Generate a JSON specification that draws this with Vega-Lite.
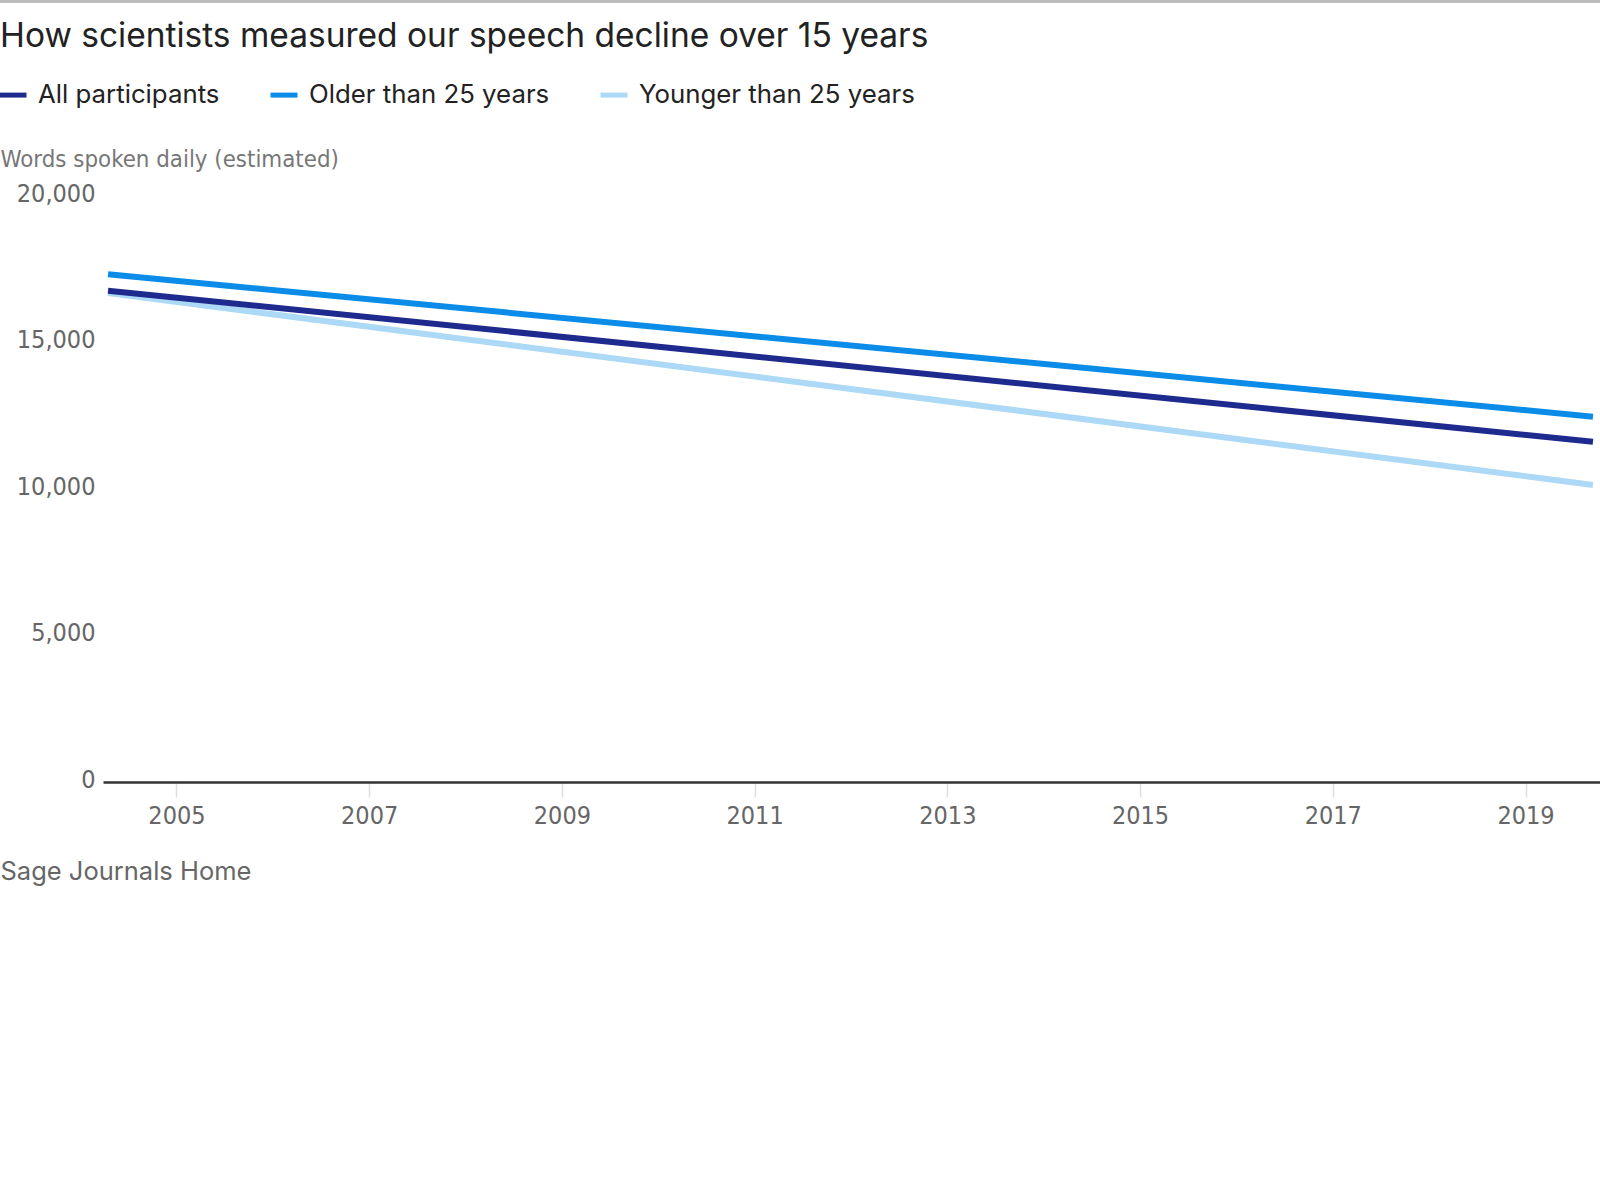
{
  "$schema": "https://vega.github.io/schema/vega-lite/v6.json",
  "description": "Words spoken daily, estimated, 2004-2019",
  "autosize": {"type": "none"},
  "width": 1497,
  "height": 586,
  "padding": {"left": 103, "top": 196, "right": 0, "bottom": 418},
  "background": "white",
  "title": {
    "text": "How scientists measured our speech decline over 15 years",
    "anchor": "start",
    "frame": "group",
    "dx": -103,
    "offset": -81,
    "baseline": "alphabetic",
    "font": "Inter",
    "fontSize": 33.5,
    "fontWeight": "normal",
    "color": "#222222"
  },
  "data": {
    "values": [
      {"year": 2004.29, "group": "Younger than 25 years", "words": 16690},
      {"year": 2019.7, "group": "Younger than 25 years", "words": 10137},
      {"year": 2004.29, "group": "Older than 25 years", "words": 17328},
      {"year": 2019.7, "group": "Older than 25 years", "words": 12468},
      {"year": 2004.29, "group": "All participants", "words": 16768},
      {"year": 2019.7, "group": "All participants", "words": 11614}
    ]
  },
  "layer": [
    {
      "mark": {"type": "rule", "color": "#bbbbbb", "strokeWidth": 3, "clip": false},
      "encoding": {
        "x": {"datum": 2003.169, "type": "quantitative"},
        "x2": {"datum": 2019.773},
        "y": {"datum": 26655, "type": "quantitative"}
      }
    },
    {
      "mark": {"type": "line", "strokeWidth": 6, "strokeCap": "butt"},
      "encoding": {
        "x": {
          "field": "year",
          "type": "quantitative",
          "scale": {"domain": [2004.238, 2019.773], "nice": false, "zero": false},
          "axis": {
            "values": [2005, 2007, 2009, 2011, 2013, 2015, 2017, 2019],
            "format": "d",
            "grid": false,
            "domainColor": "#333333",
            "domainWidth": 2.5,
            "tickColor": "#dddddd",
            "tickWidth": 1.5,
            "tickSize": 15,
            "labelPadding": 6,
            "labelFont": "DejaVu Sans Condensed",
            "labelFontSize": 25,
            "labelColor": "#666666",
            "title": "Sage Journals Home",
            "titleX": -103,
            "titleY": 97,
            "titleAlign": "left",
            "titleAnchor": "start",
            "titleBaseline": "alphabetic",
            "titleFont": "Inter",
            "titleFontSize": 25.5,
            "titleFontWeight": "normal",
            "titleColor": "#666666"
          }
        },
        "y": {
          "field": "words",
          "type": "quantitative",
          "scale": {"domain": [0, 20000], "nice": false},
          "axis": {
            "values": [0, 5000, 10000, 15000, 20000],
            "format": ",d",
            "domain": false,
            "ticks": false,
            "tickSize": 0,
            "labelPadding": 8,
            "labelOffset": -3,
            "labelFont": "DejaVu Sans Condensed",
            "labelFontSize": 25,
            "labelColor": "#666666",
            "labelBaseline": "middle",
            "gridColor": "#dddddd",
            "gridWidth": 2,
            "title": "Words spoken daily (estimated)",
            "titleAngle": 0,
            "titleX": -103,
            "titleY": -30,
            "titleAlign": "left",
            "titleBaseline": "alphabetic",
            "titleFont": "DejaVu Sans Condensed",
            "titleFontSize": 23.8,
            "titleFontWeight": "normal",
            "titleColor": "#777777"
          }
        },
        "color": {
          "field": "group",
          "type": "nominal",
          "scale": {
            "domain": ["All participants", "Older than 25 years", "Younger than 25 years"],
            "range": ["#1e2a8e", "#0a8ce8", "#acd9f5"]
          },
          "legend": {
            "title": null,
            "orient": "none",
            "legendX": -106,
            "legendY": -117,
            "direction": "horizontal",
            "padding": 0,
            "symbolType": "stroke",
            "symbolSize": 729,
            "symbolStrokeWidth": 5,
            "labelFont": "Inter",
            "labelFontSize": 25.8,
            "labelColor": "#222222",
            "labelOffset": 9,
            "labelLimit": 0,
            "columnPadding": 40
          }
        }
      }
    }
  ],
  "config": {
    "view": {"stroke": null}
  }
}
